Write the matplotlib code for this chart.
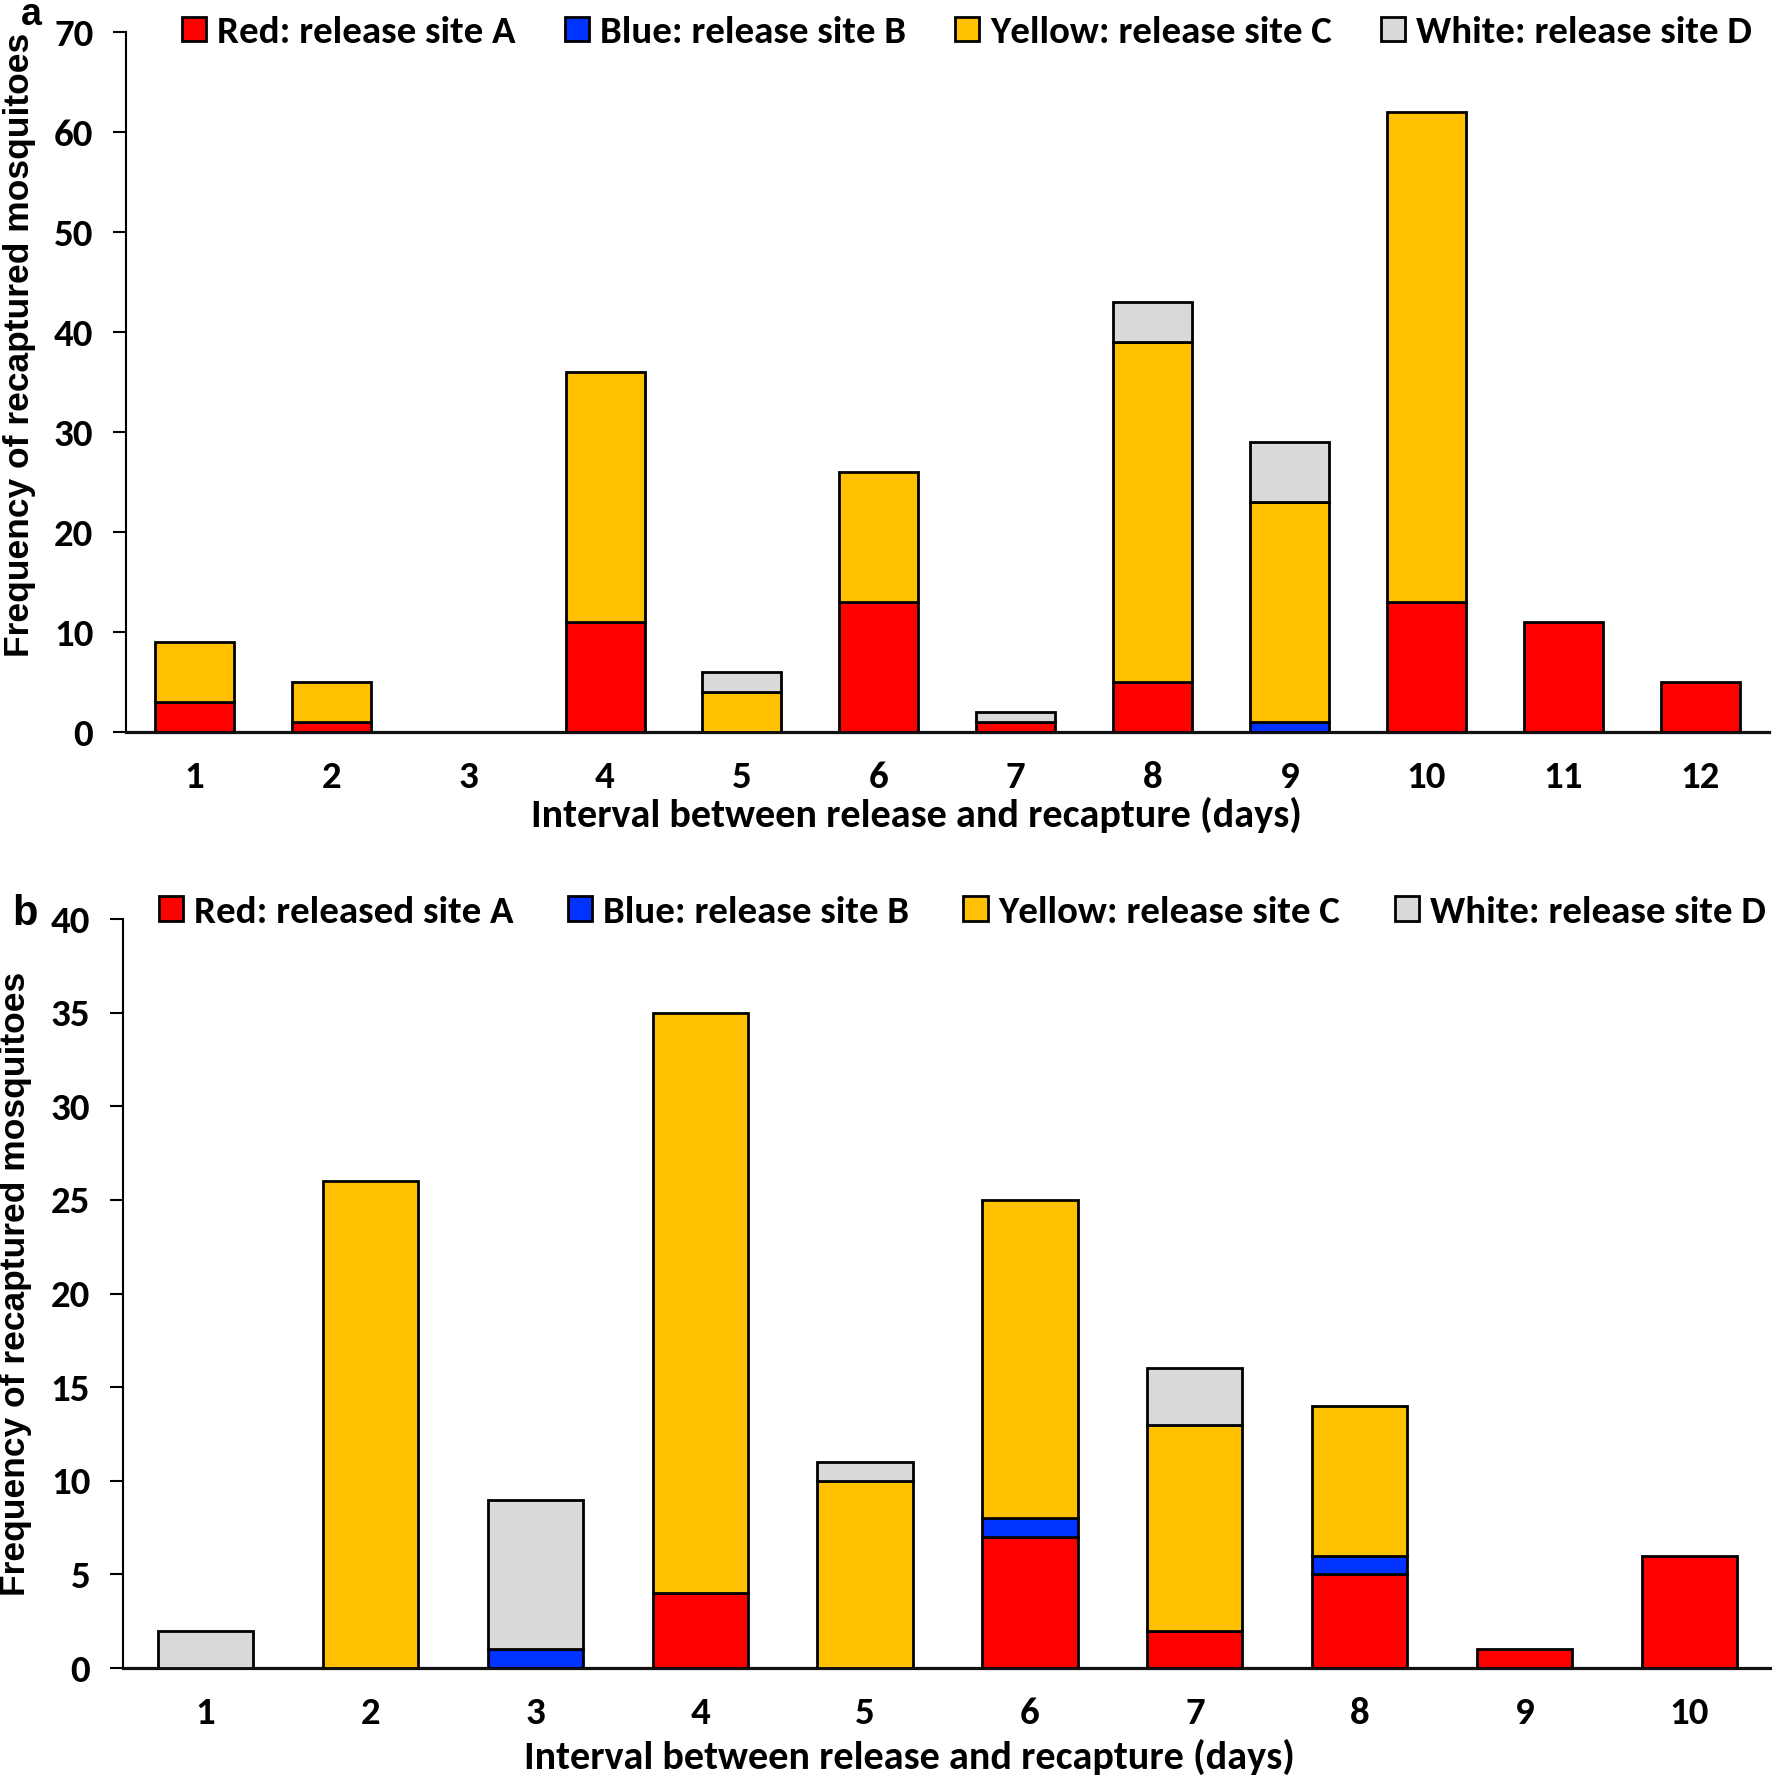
import numpy as np
import matplotlib
matplotlib.use("Agg")
import matplotlib.pyplot as plt
from matplotlib.patches import Patch

# panel a data (days 1..12)
days_a = [1, 2, 3, 4, 5, 6, 7, 8, 9, 10, 11, 12]
red_a = [3, 1, 0, 11, 0, 13, 1, 5, 0, 13, 11, 5]
blue_a = [0, 0, 0, 0, 0, 0, 0, 0, 1, 0, 0, 0]
yellow_a = [6, 4, 0, 25, 4, 13, 0, 34, 22, 49, 0, 0]
white_a = [0, 0, 0, 0, 2, 0, 1, 4, 6, 0, 0, 0]

# panel b data (days 1..10)
days_b = [1, 2, 3, 4, 5, 6, 7, 8, 9, 10]
red_b = [0, 0, 0, 4, 0, 7, 2, 5, 1, 6]
blue_b = [0, 0, 1, 0, 0, 1, 0, 1, 0, 0]
yellow_b = [0, 26, 0, 31, 10, 17, 11, 8, 0, 0]
white_b = [2, 0, 8, 0, 1, 0, 3, 0, 0, 0]

labels_a = ["Red: release site A", "Blue: release site B",
            "Yellow: release site C", "White: release site D"]
labels_b = ["Red: released site A", "Blue: release site B",
            "Yellow: release site C", "White: release site D"]
colors = ["#FF0000", "#0033FF", "#FFC000", "#D9D9D9"]

NARROW = ["Carlito", "DejaVu Sans"]
WIDE = ["Liberation Sans", "DejaVu Sans"]


def draw_panel(ax, days, series, labels, ymax, legend_xy, colspace,
               ylabel_y, xlabel_x, xlabel_pad):
    bottom = np.zeros(len(days))
    for vals, c in zip(series, colors):
        vals = np.array(vals, dtype=float)
        mask = vals > 0
        ax.bar(np.array(days)[mask], vals[mask], width=0.577, bottom=bottom[mask],
               color=c, edgecolor="black", linewidth=2.0, zorder=3)
        bottom += vals

    ax.set_xlim(0.5, len(days) + 0.5)
    ax.set_ylim(0, ymax)
    ax.set_xticks(days)
    ax.set_xticklabels([str(d) for d in days], family=NARROW, fontweight="bold",
                       fontsize=28)
    yt = np.arange(0, ymax + 1, 10 if ymax > 40 else 5)
    ax.set_yticks(yt)
    ax.set_yticklabels([str(v) for v in yt], family=NARROW, fontweight="bold",
                       fontsize=28)
    ax.tick_params(axis="x", length=0, pad=21)
    ax.tick_params(axis="y", length=9.5, width=1.5, direction="out", pad=14)

    for s in ["top", "right"]:
        ax.spines[s].set_visible(False)
    ax.spines["left"].set_linewidth(1.5)
    ax.spines["bottom"].set_linewidth(2.3)
    ax.spines["bottom"].set_color("#111111")

    ax.set_xlabel("Interval between release and recapture (days)", family=NARROW,
                  fontweight="bold", fontsize=29, labelpad=xlabel_pad, x=xlabel_x)
    ax.set_ylabel("Frequency of recaptured mosquitoes", family=WIDE,
                  fontweight="bold", fontsize=25.5)
    ax.yaxis.set_label_coords(-0.055, ylabel_y)

    handles = [Patch(facecolor=c, edgecolor="black", linewidth=2) for c in colors]
    ax.legend(handles, labels, loc="center", bbox_to_anchor=legend_xy, ncol=4,
              frameon=False, prop={"family": NARROW, "weight": "bold", "size": 28},
              handlelength=0.62, handleheight=0.6, handletextpad=0.28,
              columnspacing=colspace, borderaxespad=0)


fig = plt.figure(figsize=(17.72, 17.76), dpi=100)
ax_a = fig.add_axes([0.0711, 0.5878, 0.927, 0.394])
ax_b = fig.add_axes([0.0694, 0.0608, 0.9306, 0.4217])

draw_panel(ax_a, days_a, [red_a, blue_a, yellow_a, white_a], labels_a, 70,
           (0.512, 1.0), 1.27, 0.554, 0.481, 2)
draw_panel(ax_b, days_b, [red_b, blue_b, yellow_b, white_b], labels_b, 40,
           (0.509, 1.0094), 1.4, 0.513, 0.477, 6)

fig.text(0.0118, 0.986, "a", family=WIDE, fontweight="bold", fontsize=27, va="baseline")
fig.text(0.0068, 0.4792, "b", family=WIDE, fontweight="bold", fontsize=30, va="baseline")

fig.savefig("out.png", dpi=100)
